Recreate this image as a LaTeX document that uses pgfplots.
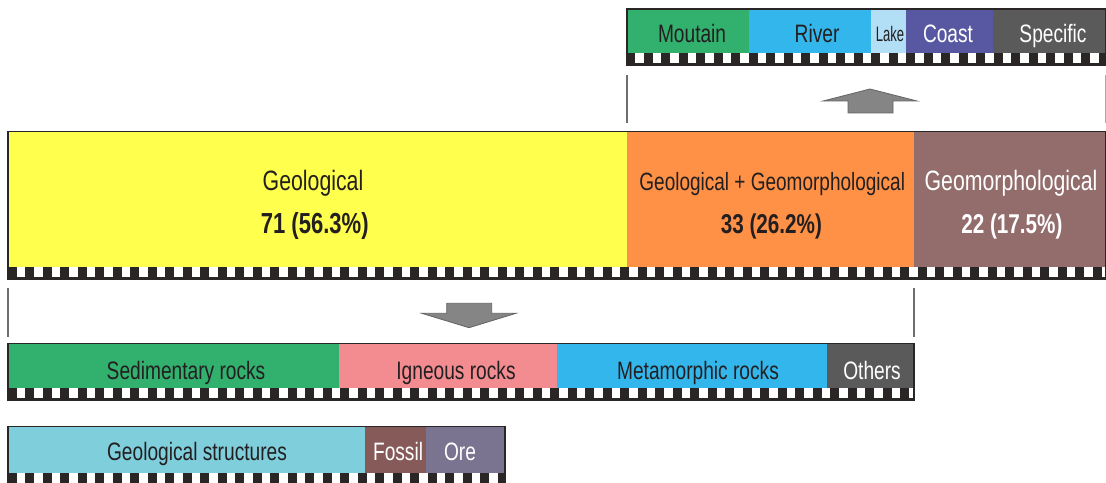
\documentclass[border=0pt]{standalone}
\usepackage{fontspec}
\setmainfont{Liberation Sans}[FakeStretch=0.76]
\newfontfamily\lakefont{Liberation Sans}[FakeStretch=0.62]
\usepackage{pgfplots}
\pgfplotsset{compat=1.18}
\definecolor{cYellow}{HTML}{FFFF4D}
\definecolor{cOrange}{HTML}{FF9147}
\definecolor{cBrown}{HTML}{936C6C}
\definecolor{cGreen}{HTML}{32B06E}
\definecolor{cBlue}{HTML}{33B6EC}
\definecolor{cLake}{HTML}{B2DEF6}
\definecolor{cCoast}{HTML}{5858A2}
\definecolor{cGray}{HTML}{5A5A5A}
\definecolor{cPink}{HTML}{F28C91}
\definecolor{cCyan}{HTML}{7ECEDC}
\definecolor{cFossil}{HTML}{875A5A}
\definecolor{cOre}{HTML}{7B7490}
\definecolor{cDark}{HTML}{2B2626}
\definecolor{cText}{HTML}{231F20}
\definecolor{cLine}{HTML}{6E6E6E}
\definecolor{cArrow}{HTML}{858585}
% segment: x0 x1 (counts), ytop ybot (rows), colour
\newcommand{\seg}[5]{\addplot[fill=#5, draw=none] coordinates {(#1,#3) (#2,#3) (#2,#4) (#1,#4)} -- cycle;}
% strip: x0 x1 ytop ybot
\newcommand{\strip}[4]{%
  \addplot[fill=cDark, draw=none] coordinates {(#1,#3) (#2,#3) (#2,#4) (#1,#4)} -- cycle;
  \addplot[white, line width=5bp, dash pattern=on 4.15bp off 4.6bp, line cap=butt]
    coordinates {(#1+1.0,#3+5) (#2-0.1,#3+5)};}
\newcommand{\frm}[4]{\addplot[draw=cDark, line width=0.9bp, fill=none] coordinates {(#1,#3) (#2,#3) (#2,#4) (#1,#4)} -- cycle;}
\begin{document}
\begin{tikzpicture}
\begin{axis}[scale only axis, width=553bp, height=241.5bp,
  xmin=-0.918, xmax=126.0, ymin=0, ymax=483, y dir=reverse,
  hide axis, clip=false]
% ---- top bar: geomorphological subtypes (start at 71) ----
\seg{71}{85}{9}{53}{cGreen}
\seg{85}{99}{9}{53}{cBlue}
\seg{99}{103}{9}{53}{cLake}
\seg{103}{113}{9}{53}{cCoast}
\seg{113}{126}{9}{53}{cGray}
\strip{71}{126}{53}{65.5}
\frm{71}{126}{9}{65.5}
% ---- main bar ----
\seg{0}{71}{132}{267}{cYellow}
\seg{71}{104}{132}{267}{cOrange}
\seg{104}{126}{132}{267}{cBrown}
\strip{0}{126}{267}{279.5}
\frm{0}{126}{131.5}{279.5}
% ---- lower bar: geological subtypes ----
\seg{0}{38}{344}{388}{cGreen}
\seg{38}{63}{344}{388}{cPink}
\seg{63}{94}{344}{388}{cBlue}
\seg{94}{104}{344}{388}{cGray}
\strip{0}{104}{388}{400.5}
\frm{0}{104}{343.5}{400.5}
% ---- bottom bar ----
\seg{0}{41}{427}{473}{cCyan}
\seg{41}{48}{427}{473}{cFossil}
\seg{48}{57}{427}{473}{cOre}
\strip{0}{57}{473}{485}
\frm{0}{57}{426.5}{485}
% ---- connector lines ----
\addplot[cLine, line width=0.8bp] coordinates {(71,75) (71,123)};
\addplot[cLine!60, line width=0.8bp] coordinates {(125.95,75) (125.95,123)};
\addplot[cLine, line width=0.8bp] coordinates {(0,288) (0,337)};
\addplot[cLine, line width=0.8bp] coordinates {(104,288) (104,337)};
% ---- arrows ----
\addplot[fill=cArrow, draw=cText!70, line width=0.4bp] coordinates
  {(98.92,89) (104.31,101) (101.56,101) (101.56,113) (96.40,113) (96.40,101) (93.53,101)} -- cycle;
\addplot[fill=cArrow, draw=cText!70, line width=0.4bp] coordinates
  {(50.34,303.3) (55.51,303.3) (55.51,313.3) (58.30,313.3) (52.90,327.7) (47.48,313.3) (50.34,313.3)} -- cycle;
% ---- labels ----
\fontsize{12.6bp}{15bp}\selectfont
\node[anchor=base, text=cText] at (axis cs:35.0,190) {\fontsize{14bp}{15bp}\selectfont Geological};
\node[anchor=base, text=cText] at (axis cs:35.2,233) {\fontsize{14.5bp}{15bp}\selectfont\bfseries 71 (56.3\%)};
\node[anchor=base, text=cText] at (axis cs:87.7,190) {\fontsize{12.5bp}{15bp}\selectfont Geological + Geomorphological};
\node[anchor=base, text=cText] at (axis cs:87.6,233) {\fontsize{13.6bp}{15bp}\selectfont\bfseries 33 (26.2\%)};
\node[anchor=base, text=white] at (axis cs:115.1,190) {\fontsize{14bp}{15bp}\selectfont Geomorphological};
\node[anchor=base, text=white] at (axis cs:115.2,233) {\fontsize{13.6bp}{15bp}\selectfont\bfseries 22 (17.5\%)};
\node[anchor=base, text=cText] at (axis cs:78.5,43) {Moutain};
\node[anchor=base, text=cText] at (axis cs:92.84,43) {River};
\node[anchor=base, text=cText] at (axis cs:101.2,42) {\lakefont\fontsize{10.5bp}{12bp}\selectfont Lake};
\node[anchor=base, text=white] at (axis cs:107.87,43) {Coast};
\node[anchor=base, text=white] at (axis cs:119.92,43) {Specific};
\node[anchor=base, text=cText] at (axis cs:20.43,379) {Sedimentary rocks};
\node[anchor=base, text=cText] at (axis cs:51.41,379) {Igneous rocks};
\node[anchor=base, text=cText] at (axis cs:79.18,379) {Metamorphic rocks};
\node[anchor=base, text=white] at (axis cs:99.15,379) {Others};
\node[anchor=base, text=cText] at (axis cs:21.69,460) {Geological structures};
\node[anchor=base, text=white] at (axis cs:44.76,460) {Fossil};
\node[anchor=base, text=white] at (axis cs:51.87,460) {Ore};
\end{axis}
\pgfresetboundingbox
\useasboundingbox (0,0) rectangle (553bp,241.5bp);
\end{tikzpicture}
\end{document}
